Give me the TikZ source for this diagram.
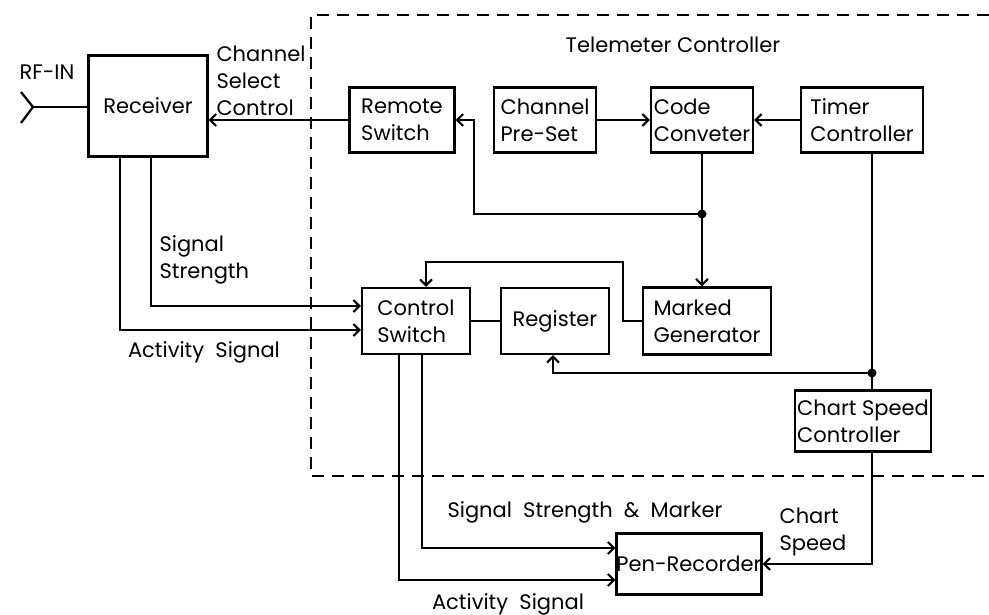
\documentclass[tikz,border=0pt]{standalone}
\usepackage{fontspec}
\setmainfont{Poppins}
\usetikzlibrary{arrows.meta}

\begin{document}
\begin{tikzpicture}[
    x=1pt, y=-1pt,
    every node/.style={font=\fontsize{21}{27}\selectfont},
    block/.style={draw, line width=2.4pt, align=left, inner sep=0pt},
    wire/.style={line width=2.2pt},
    >={Straight Barb[length=6pt, width=12pt, line width=2pt]}
]
\useasboundingbox (0,0) rectangle (989,615);

% ===== TELEMETER CONTROLLER (dashed frame) =====
\draw[line width=2pt, dash pattern=on 12pt off 8pt]
    (989,15) -- (311,15) -- (311,476) -- (989,476);
\node (tclabel) at (673,45) {Telemeter Controller};

% --- Blocks, top row ---
\node[block, minimum width=119pt, minimum height=101pt] (receiver) at (148,106) {Receiver};
\node[block, minimum width=105pt, minimum height=65pt] (remote) at (402,120) {Remote\\Switch};
\node[block, minimum width=102pt, minimum height=65pt] (preset) at (545,120) {Channel\\Pre-Set};
\node[block, minimum width=102pt, minimum height=65pt] (coder) at (702,120) {Code\\Conveter};
\node[block, minimum width=122pt, minimum height=65pt] (timer) at (862,120) {Timer\\Controller};

% --- Blocks, middle row ---
\node[block, minimum width=108pt, minimum height=66pt] (ctrlsw) at (416,321) {Control\\Switch};
\node[block, minimum width=108pt, minimum height=66pt] (register) at (555,321) {Register};
\node[block, minimum width=128pt, minimum height=67pt] (marker) at (707,321) {Marked\\Generator};
\node[block, minimum width=136pt, minimum height=61pt] (chartsp) at (863,421) {Chart Speed\\Controller};

% --- Recorder ---
\node[block, minimum width=142pt, minimum height=61pt] (pen) at (689,564) {Pen-Recorder};

% ===== ANTENNA =====
\coordinate (ant) at (33,107);
\draw[wire] (ant) -- (ant -| receiver.west);
\draw[wire] (ant) -- ++(-12,-15);
\draw[wire] (ant) -- ++(-12,16);
\node (rfin) at (47,72) {RF-IN};

% ===== CONNECTIONS =====
% --- channel select back to the receiver ---
\draw[wire, ->] (remote.west) -- (remote.west -| receiver.east);
\node[anchor=west, align=left] (chsel) at (213,81) {Channel\\Select\\Control};

% --- code converter inputs ---
\draw[wire, ->] (preset.east) -- (coder.west);
\draw[wire, ->] (timer.west) -- (coder.east);

% --- code converter fan-out ---
\coordinate (jcode) at (702,214);
\draw[wire] (coder.south) -- (jcode);
\draw[wire, ->] (jcode) -- (jcode |- marker.north);
\draw[wire, ->] (jcode) -| ([xshift=18pt]remote.east) -- (remote.east);
\fill (jcode) circle (4.5pt);

% --- marker back to control switch ---
\draw[wire, ->] (marker.west) -- ++(-19,0)
    |- ([xshift=10pt, yshift=25pt]ctrlsw.north) -- ([xshift=10pt]ctrlsw.north);
\draw[wire] (ctrlsw.east) -- (register.west);

% --- timer fan-out ---
\coordinate (jtimer) at (872,373);
\draw[wire] (timer.south -| jtimer) -- (jtimer) -- (jtimer |- chartsp.north);
\draw[wire, ->] (jtimer) -| ([xshift=-2pt]register.south);
\fill (jtimer) circle (4.5pt);

% --- chart speed to recorder ---
\draw[wire, ->] (chartsp.south -| jtimer) |- (pen.east);
\node[anchor=west, align=left] (chlabel) at (776,532) {Chart\\Speed};

% --- receiver outputs ---
\draw[wire, ->] ([xshift=3pt]receiver.south) |- ([yshift=15pt]ctrlsw.west);
\draw[wire, ->] ([xshift=-28pt]receiver.south) |- ([yshift=-9pt]ctrlsw.west);
\node[anchor=west, align=left] (sslabel) at (156,260) {Signal\\Strength};
\node (aslabel) at (204,352) {Activity\ \ Signal};

% --- control switch outputs ---
\draw[wire, ->] ([xshift=6pt]ctrlsw.south) |- ([yshift=16pt]pen.west);
\draw[wire, ->] ([xshift=-17pt]ctrlsw.south) |- ([yshift=-16pt]pen.west);
\node (smlabel) at (585,512) {Signal\ \ Strength\ \ \&\ \ Marker};
\node (aslabel2) at (508,604) {Activity\ \ Signal};

\end{tikzpicture}
\end{document}
